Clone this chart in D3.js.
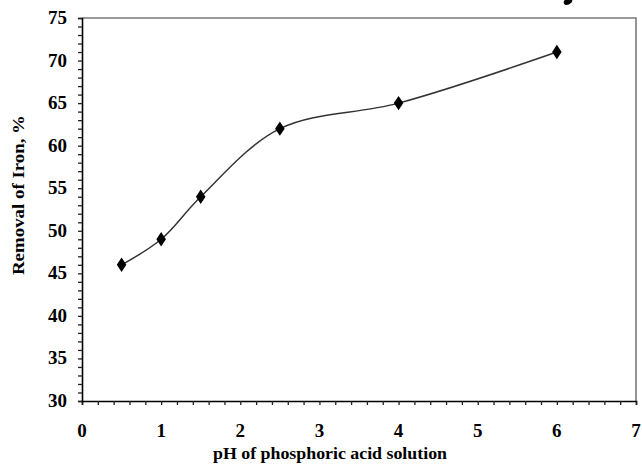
<!DOCTYPE html>
<html>
<head>
<meta charset="utf-8">
<script src="https://cdn.jsdelivr.net/npm/d3@7"></script>
<style>
  html, body { margin: 0; padding: 0; background: #fff; }
  svg { display: block; }
  text { font-family: "Liberation Serif", "DejaVu Serif", serif; font-weight: bold; fill: #000; }
</style>
</head>
<body>
<svg id="chart" width="642" height="472"></svg>
<script>
// Iron removal versus pH of the phosphoric acid solution
const phValues = [0.5, 1, 1.5, 2.5, 4, 6];
const removalValues = [46, 49, 54, 62, 65, 71];
const xTickValues = [0, 1, 2, 3, 4, 5, 6, 7];
const yTickValues = [30, 35, 40, 45, 50, 55, 60, 65, 70, 75];
const xTitle = "pH of phosphoric acid solution";
const yTitle = "Removal of Iron, %";

const W = 642, H = 472;
const margin = { left: 82, top: 18, right: 6, bottom: 71 };
const plotW = W - margin.left - margin.right;
const plotH = H - margin.top - margin.bottom;

const svg = d3.select("#chart");
const g = svg.append("g").attr("transform", `translate(${margin.left},${margin.top})`);

const x = d3.scaleLinear().domain([0, 7]).range([0, plotW]);
const y = d3.scaleLinear().domain([30, 75]).range([plotH, 0]);

// plot frame: grey top and right edges
g.append("path")
  .attr("d", `M0,0H${plotW}V${plotH}`)
  .attr("fill", "none")
  .attr("stroke", "#7a7a7a")
  .attr("stroke-width", 1.6);

// minor ticks
const xMinor = d3.range(0, 7.0001, 0.2);
const yMinor = d3.range(30, 75.0001, 1);

const xAxis = d3.axisBottom(x).tickValues(xMinor).tickSize(4).tickFormat("");
const yAxis = d3.axisLeft(y).tickValues(yMinor).tickSize(4).tickFormat("");

const gx = g.append("g").attr("transform", `translate(0,${plotH})`).call(xAxis);
const gy = g.append("g").call(yAxis);
[gx, gy].forEach(a => {
  a.select(".domain").attr("stroke", "#000").attr("stroke-width", 1.6);
  a.selectAll(".tick line").attr("stroke", "#222").attr("stroke-width", 1.3);
});

// tick labels
g.append("g").selectAll("text")
  .data(xTickValues).join("text")
  .attr("x", d => x(d))
  .attr("y", plotH + 36)
  .attr("text-anchor", "middle")
  .attr("font-size", 19)
  .text(d => d);

g.append("g").selectAll("text")
  .data(yTickValues).join("text")
  .attr("x", -15)
  .attr("y", d => y(d) + 6)
  .attr("text-anchor", "end")
  .attr("font-size", 19)
  .text(d => d);

// axis titles
svg.append("text")
  .attr("x", 330)
  .attr("y", 459)
  .attr("text-anchor", "middle")
  .attr("font-size", 17)
  .attr("textLength", 234)
  .attr("lengthAdjust", "spacingAndGlyphs")
  .text(xTitle);

svg.append("text")
  .attr("transform", "translate(24,195) rotate(-90)")
  .attr("text-anchor", "middle")
  .attr("font-size", 17)
  .attr("textLength", 160)
  .attr("lengthAdjust", "spacingAndGlyphs")
  .text(yTitle);

// smoothed series line
const pts = phValues.map((p, i) => [p, removalValues[i]]);
const line = d3.line()
  .x(d => x(d[0]))
  .y(d => y(d[1]))
  .curve(d3.curveCatmullRom.alpha(0.5));

g.append("path")
  .datum(pts)
  .attr("d", line)
  .attr("fill", "none")
  .attr("stroke", "#333")
  .attr("stroke-width", 1.5);

// diamond markers
const diamond = d3.symbol().type(d3.symbolDiamond).size(60);
g.append("g").selectAll("path")
  .data(pts).join("path")
  .attr("transform", d => `translate(${x(d[0])},${y(d[1])}) scale(1.15,1)`)
  .attr("d", diamond)
  .attr("fill", "#000");

// stray ink mark at the very top of the page
svg.append("ellipse")
  .attr("cx", 568).attr("cy", 1.5)
  .attr("rx", 4.5).attr("ry", 3)
  .attr("transform", "rotate(-25,568,1.5)")
  .attr("fill", "#000");
</script>
</body>
</html>
